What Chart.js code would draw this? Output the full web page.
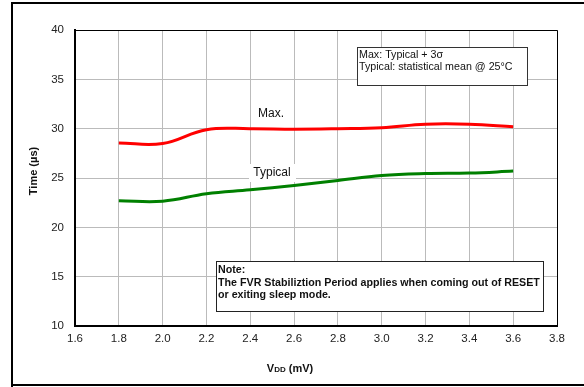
<!DOCTYPE html>
<html><head><meta charset="utf-8">
<script src="https://cdn.jsdelivr.net/npm/chart.js@4/dist/chart.umd.min.js"></script>
<style>html,body{margin:0;padding:0;background:#fff}#w{width:584px;height:387px;position:relative}</style>
</head><body><div id="w"><canvas id="c" width="584" height="387"></canvas></div>
<script>
const vdd = [1.8, 2.0, 2.2, 2.4, 2.6, 2.8, 3.0, 3.2, 3.4, 3.6];
const maxVals = [28.55, 28.5, 29.9, 30.0, 29.95, 30.0, 30.1, 30.45, 30.45, 30.2];
const typVals = [22.7, 22.65, 23.4, 23.8, 24.25, 24.75, 25.25, 25.45, 25.5, 25.7];
const xTicks = [1.6, 1.8, 2.0, 2.2, 2.4, 2.6, 2.8, 3.0, 3.2, 3.4, 3.6, 3.8];
const yTicks = [10, 15, 20, 25, 30, 35, 40];
const infoLines = ["Max: Typical + 3\u03c3", "Typical: statistical mean @ 25\u00b0C"];
const noteLines = ["Note:", "The FVR Stabiliztion Period applies when coming out of RESET", "or exiting sleep mode."];

const F = 'Arial, "Liberation Sans", sans-serif';
const deco = {
  id: 'deco',
  beforeDraw(chart) {
    const c = chart.ctx;
    c.save();
    c.fillStyle = '#fff';
    c.fillRect(0, 0, chart.width, chart.height);
    c.restore();
  },
  afterDraw(chart) {
    const c = chart.ctx, a = chart.chartArea;
    c.save();
    // outer frame
    c.strokeStyle = '#000'; c.lineWidth = 2;
    c.beginPath();
    c.moveTo(12, 390); c.lineTo(12, 3); c.lineTo(590, 3);
    c.moveTo(12, 385); c.lineTo(590, 385);
    c.stroke();
    // plot top/right border
    c.lineWidth = 1;
    c.beginPath();
    c.moveTo(a.left, a.top + 0.5); c.lineTo(a.right + 0.5, a.top + 0.5); c.lineTo(a.right + 0.5, a.bottom);
    c.stroke();
    // info box
    c.fillStyle = '#fff';
    c.fillRect(357, 47, 170, 38);
    c.strokeStyle = '#333'; c.lineWidth = 1;
    c.strokeRect(357.5, 47.5, 170, 38);
    c.fillStyle = '#111'; c.font = '10.7px ' + F; c.textBaseline = 'middle'; c.textAlign = 'left';
    c.fillText(infoLines[0], 359, 55);
    c.fillText(infoLines[1], 359, 67);
    // note box
    c.fillStyle = '#fff';
    c.fillRect(216, 261, 327, 50);
    c.strokeStyle = '#222';
    c.strokeRect(216.5, 261.5, 327, 50);
    c.fillStyle = '#111'; c.font = 'bold 10.7px ' + F;
    c.fillText(noteLines[0], 218, 270);
    c.fillText(noteLines[1], 218, 283);
    c.fillText(noteLines[2], 218, 295);
    // series labels
    c.font = '12px ' + F; c.textAlign = 'center';
    c.fillStyle = '#111';
    c.fillText('Max.', 271, 114);
    c.fillStyle = '#fff';
    c.fillRect(249, 164, 47, 18);
    c.fillStyle = '#111';
    c.fillText('Typical', 272, 173);
    // y axis title
    c.save();
    c.translate(34, 171); c.rotate(-Math.PI / 2);
    c.font = 'bold 11px ' + F; c.textAlign = 'center';
    c.fillText('Time (\u00b5s)', 0, 0);
    c.restore();
    // x axis title with small-caps DD
    c.font = 'bold 11px ' + F;
    const p1 = 'V', p2 = 'DD', p3 = ' (mV)';
    const w1 = c.measureText(p1).width;
    c.font = 'bold 8px ' + F;
    const w2 = c.measureText(p2).width;
    c.font = 'bold 11px ' + F;
    const w3 = c.measureText(p3).width;
    let x0 = 290 - (w1 + w2 + w3) / 2;
    c.textAlign = 'left'; c.textBaseline = 'alphabetic';
    c.fillText(p1, x0, 372);
    c.font = 'bold 8px ' + F; c.fillText(p2, x0 + w1, 372);
    c.font = 'bold 11px ' + F; c.fillText(p3, x0 + w1 + w2, 372);
    c.restore();
  }
};

new Chart(document.getElementById('c'), {
  type: 'line',
  data: {
    datasets: [
      { label: 'Max.', data: vdd.map((v, i) => ({x: v, y: maxVals[i]})), borderColor: '#ff0000', borderWidth: 3, pointRadius: 0, tension: 0.4, fill: false },
      { label: 'Typical', data: vdd.map((v, i) => ({x: v, y: typVals[i]})), borderColor: '#008000', borderWidth: 3, pointRadius: 0, tension: 0.4, fill: false }
    ]
  },
  options: {
    responsive: false, animation: false, devicePixelRatio: 1,
    layout: { padding: { left: 0, top: 30, right: 27, bottom: 0 } },
    plugins: { legend: { display: false }, tooltip: { enabled: false } },
    scales: {
      x: {
        type: 'linear', min: 1.6, max: 3.8,
        afterBuildTicks: s => { s.ticks = xTicks.map(v => ({ value: v })); },
        afterFit: s => { s.height = 61; },
        ticks: { color: '#222', font: { family: F, size: 11.5 }, padding: 6, maxRotation: 0, callback: v => Number(v).toFixed(1) },
        grid: { color: '#bbb', lineWidth: 1, drawTicks: false },
        border: { display: true, color: '#000', width: 2 }
      },
      y: {
        min: 10, max: 40,
        afterBuildTicks: s => { s.ticks = yTicks.map(v => ({ value: v })); },
        afterFit: s => { s.width = 75; },
        ticks: { color: '#222', font: { family: F, size: 11.5 }, padding: 11 },
        grid: { color: '#bbb', lineWidth: 1, drawTicks: false },
        border: { display: true, color: '#000', width: 2 }
      }
    }
  },
  plugins: [deco]
});
</script></body></html>
